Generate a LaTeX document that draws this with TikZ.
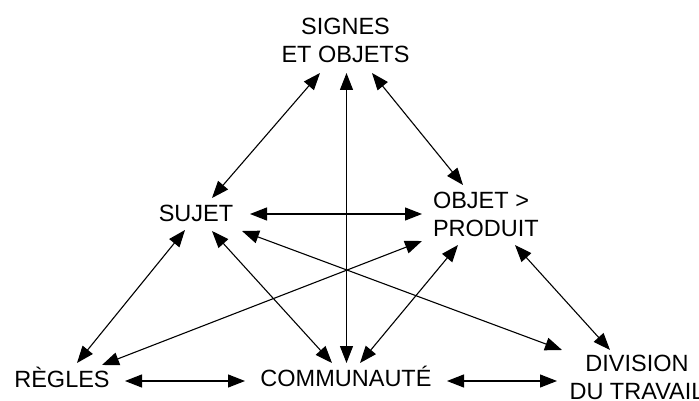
\documentclass[tikz,border=0pt]{standalone}
\usepackage{fontspec}
\setmainfont{Liberation Sans}
\usetikzlibrary{arrows.meta}
\tikzset{
  lbl/.style={inner sep=0pt, outer sep=0pt, font=\fontsize{23.5}{28}\selectfont},
  one/.style={lbl, text height=17pt, text depth=0pt},
  arr/.style={line width=1.1pt, {Triangle[length=17pt,width=13pt]}-{Triangle[length=17pt,width=13pt]}}
}
\begin{document}
\begin{tikzpicture}[x=1pt,y=-1pt]
\useasboundingbox (0,0) rectangle (699,401);
\node[lbl, align=center, anchor=north] (sig) at (345.5,18) {SIGNES\\ET OBJETS};
\node[lbl, align=left, anchor=north west] (obj) at (433,192) {OBJET >\\PRODUIT};
\node[lbl, align=center, anchor=north] (div) at (637,355) {DIVISION\\DU TRAVAIL};
\node[one] (suj) at (196,213.5) {SUJET};
\node[one] (reg) at (62,378.5) {RÈGLES};
\node[one] (com) at (346,378) {COMMUNAUTÉ};

\draw[arr] ([shift={(-25.5,55)}]sig.north) -- ([shift={(16,-15.5)}]suj.center);
\draw[arr] ([shift={(26.5,55)}]sig.north) -- ([shift={(30,-7)}]obj.north west);
\draw[arr] ([shift={(1,55)}]sig.north) -- ([shift={(0.5,-15)}]com.center);
\draw[arr] ([shift={(54,0.5)}]suj.center) -- ([shift={(-11,22)}]obj.north west);
\draw[arr] ([shift={(-11,16.5)}]suj.center) -- ([shift={(15,-15.5)}]reg.center);
\draw[arr] ([shift={(16,17.5)}]suj.center) -- ([shift={(-14,-15)}]com.center);
\draw[arr] ([shift={(46,17.5)}]suj.center) -- ([shift={(-75,-5)}]div.north);
\draw[arr] ([shift={(-11,49)}]obj.north west) -- ([shift={(40,-13.5)}]reg.center);
\draw[arr] ([shift={(25,53)}]obj.north west) -- ([shift={(14,-15)}]com.center);
\draw[arr] ([shift={(82,53)}]obj.north west) -- ([shift={(-27,-5)}]div.north);
\draw[arr] ([shift={(63,2.5)}]reg.center) -- ([shift={(-101,3)}]com.center);
\draw[arr] ([shift={(101,3)}]com.center) -- ([shift={(-80,26)}]div.north);
\end{tikzpicture}
\end{document}
